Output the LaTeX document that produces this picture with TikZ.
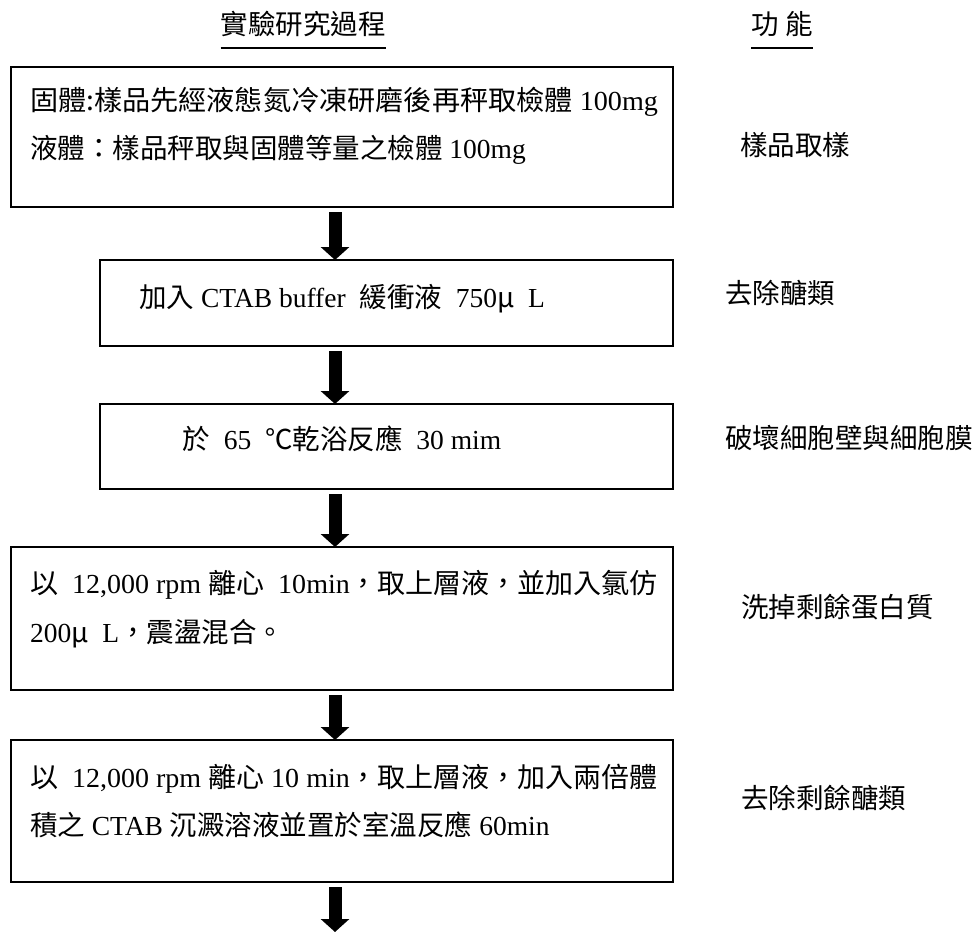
\documentclass[tikz,border=0pt]{standalone}
\usepackage{fontspec}
\usepackage{graphicx}
\setmainfont{Liberation Serif}
\newfontfamily\cjk{Noto Sans CJK TC}
\usetikzlibrary{arrows.meta}
\newcommand{\C}[1]{{\cjk #1}}
\begin{document}
\begin{tikzpicture}[x=1pt,y=-1pt,
  box/.style={draw=black, line width=1.6pt, inner sep=0pt, outer sep=0pt},
  flow/.style={line width=13pt, -{Triangle[width=28pt,length=13pt]}, shorten <=5pt},
  txt/.style={inner sep=0pt, outer sep=0pt, font=\fontsize{27.5}{32}\selectfont},
  side/.style={inner sep=0pt, outer sep=0pt, anchor=base west, font=\cjk\fontsize{27.5}{32}\selectfont},
  headtxt/.style={inner sep=0pt, outer sep=0pt, anchor=base, font=\cjk\fontsize{27.5}{32}\selectfont},
  uline/.style={line width=1.5pt}
]
\useasboundingbox (0,0) rectangle (980,932);

% headers
\node[headtxt] (h1) at (303,34) {實驗研究過程};
\node[headtxt] (h2) at (782,34) {功 能};
\draw[uline] ([yshift=-14pt]h1.base west) -- ([yshift=-14pt]h1.base east);
\draw[uline] ([yshift=-14pt]h2.base west) -- ([yshift=-14pt]h2.base east);

% boxes
\node[box, minimum width=662pt, minimum height=140pt] (b1) at (342,137) {};
\node[box, minimum width=573pt, minimum height=86pt] (b2) at (386.5,303) {};
\node[box, minimum width=573pt, minimum height=85pt] (b3) at (386.5,446.5) {};
\node[box, minimum width=662pt, minimum height=143pt] (b4) at (342,618.5) {};
\node[box, minimum width=662pt, minimum height=142pt] (b5) at (342,811) {};
\coordinate (axis) at (335,0);
\coordinate (end) at (335,932);

% box texts
\node[txt, anchor=base west] (t11) at (30,110.5) {\resizebox{628pt}{\height}{\C{固體:樣品先經液態氮冷凍研磨後再秤取檢體} 100mg}};
\node[txt, anchor=base west] (t12) at (30,158.5) {\C{液體：樣品秤取與固體等量之檢體} 100mg};
\node[txt, anchor=base] (t2) at (342,307.5) {\C{加入} CTAB buffer\ \ \C{緩衝液}\ \ 750\C{μ}\ \ L};
\node[txt, anchor=base] (t3) at (342,449.5) {\C{於}\ \ 65\ \ \C{℃乾浴反應}\ \ 30 mim};
\node[txt, anchor=base west] (t41) at (30,593.5) {\resizebox{628pt}{\height}{\C{以}\ \ 12,000 rpm \C{離心}\ \ 10min\C{，取上層液，並加入氯仿}}};
\node[txt, anchor=base west] (t42) at (30,642.5) {200\C{μ}\ \ L\C{，震盪混合。}};
\node[txt, anchor=base west] (t51) at (30,787.5) {\resizebox{628pt}{\height}{\C{以}\ \ 12,000 rpm \C{離心} 10 min\C{，取上層液，加入兩倍體}}};
\node[txt, anchor=base west] (t52) at (30,835.5) {\C{積之} CTAB \C{沉澱溶液並置於室溫反應} 60min};

% function column
\node[side] (f1) at (740,155) {樣品取樣};
\node[side] (f2) at (725,303) {去除醣類};
\node[side] (f3) at (725,448) {破壞細胞壁與細胞膜};
\node[side] (f4) at (741,617) {洗掉剩餘蛋白質};
\node[side] (f5) at (741,808) {去除剩餘醣類};

% arrows
\draw[flow] (b1.south -| axis) -- (b2.north -| axis);
\draw[flow] (b2.south -| axis) -- (b3.north -| axis);
\draw[flow] (b3.south -| axis) -- (b4.north -| axis);
\draw[flow] (b4.south -| axis) -- (b5.north -| axis);
\draw[flow] (b5.south -| axis) -- (end);
\end{tikzpicture}
\end{document}
